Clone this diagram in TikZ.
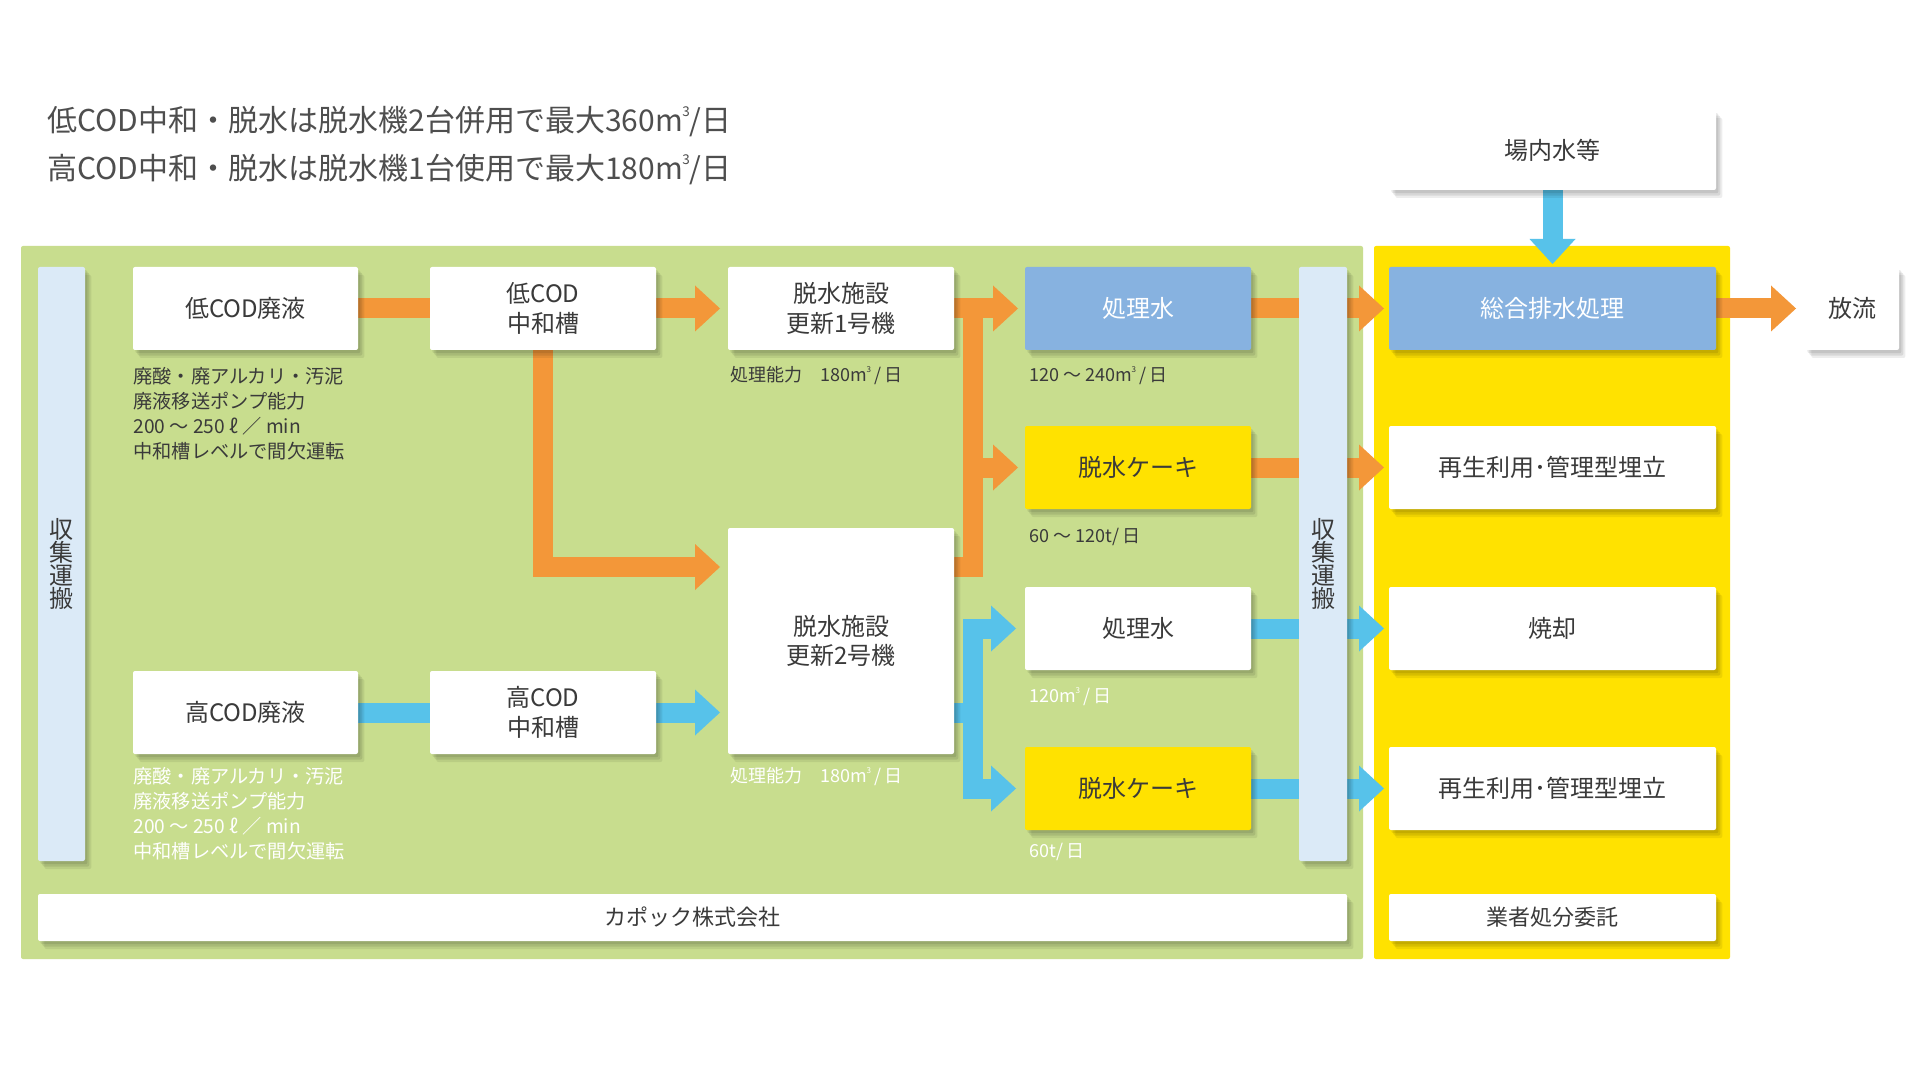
\documentclass[tikz,border=0pt]{standalone}
\usepackage{fontspec}
\setmainfont{Noto Sans CJK JP}
\usetikzlibrary{arrows.meta,shadows}
\definecolor{gpanel}{HTML}{C8DD8E}
\definecolor{ypanel}{HTML}{FFE200}
\definecolor{bbox}{HTML}{87B2E0}
\definecolor{lbar}{HTML}{DBEAF7}
\definecolor{corange}{HTML}{F39739}
\definecolor{ccyan}{HTML}{57C2EA}
\definecolor{txt}{HTML}{3A3A3A}
\pgfdeclarelayer{bg}
\pgfdeclarelayer{arr}
\pgfsetlayers{bg,arr,main}
\newcommand\mcube{m\kern-0.02em\raisebox{0.5em}{\scalebox{0.45}{3}}}
\newcommand\mkbox[7]{\node[#2,minimum width={(#5-#3)*0.5pt},minimum height={(#6-#4)*0.5pt}] (#1) at ({(#3+#5)/2},{(#4+#6)/2}) {#7};}
\tikzset{
  softshadow/.style={
    drop shadow={shadow xshift=1.2pt, shadow yshift=-1.6pt, opacity=0.09, fill=black},
    drop shadow={shadow xshift=2.2pt, shadow yshift=-2.8pt, opacity=0.09, fill=black},
    drop shadow={shadow xshift=3.2pt, shadow yshift=-4pt, opacity=0.07, fill=black}},
  box/.style={inner sep=0pt, outer sep=0pt, rounded corners=1pt, fill=white, text=txt,
    font=\fontsize{12pt}{14.75pt}\selectfont, align=center, softshadow},
  bluebox/.style={box, fill=bbox, text=white},
  yelbox/.style={box, fill=ypanel},
  barbox/.style={box, fill=lbar, font=\fontsize{12pt}{11.5pt}\selectfont},
  wide/.style={box, font=\fontsize{11pt}{13pt}\selectfont},
  flow/.style={line width=10pt, line join=miter},
  oflow/.style={flow, draw=corange},
  bflow/.style={flow, draw=ccyan},
  tipped/.style={-{Triangle[width=23pt,length=12.5pt,line width=0pt]}, shorten >=#1},
  tipped/.default=4pt,
  note/.style={inner sep=0pt, anchor=west, text=txt, font=\fontsize{9pt}{12.5pt}\selectfont, align=left},
  wnote/.style={note, text=white},
  lnote/.style={note, font=\fontsize{9.6pt}{12.5pt}\selectfont},
  lwnote/.style={lnote, text=white},
  title/.style={inner sep=0pt, anchor=west, text=txt!90, font=\fontsize{15pt}{18pt}\selectfont},
}
\begin{document}
\begin{tikzpicture}[x=0.5pt,y=-0.5pt]
\useasboundingbox (0,0) rectangle (1920,1080);
\begin{pgfonlayer}{bg}
\fill[white] (0,0) rectangle (1920,1080);
\fill[gpanel, rounded corners=1pt] (21,246) rectangle (1363,959);
\fill[ypanel, rounded corners=1pt] (1374,246) rectangle (1730,959);
\end{pgfonlayer}

% titles
\node[title] (t1) at (47,122) {低COD中和・脱水は脱水機2台併用で最大360\mcube/日};
\node[title] (t2) at (47,170) {高COD中和・脱水は脱水機1台使用で最大180\mcube/日};

% boxes
\mkbox{barL}{barbox}{38}{267}{85}{861}{収\\集\\運\\搬}
\mkbox{barR}{barbox}{1299}{267}{1347}{861}{収\\集\\運\\搬}
\mkbox{lowwaste}{box}{133}{267}{358}{350}{低COD廃液}
\mkbox{lowtank}{box}{430}{267}{656}{350}{低COD\\中和槽}
\mkbox{unit1}{box}{728}{267}{954}{350}{脱水施設\\更新1号機}
\mkbox{treat1}{bluebox}{1025}{267}{1251}{350}{処理水}
\mkbox{cake1}{yelbox}{1025}{426}{1251}{509}{脱水ケーキ}
\mkbox{unit2}{box}{728}{528}{954}{754}{脱水施設\\更新2号機}
\mkbox{treat2}{box}{1025}{587}{1251}{670}{処理水}
\mkbox{cake2}{yelbox}{1025}{747}{1251}{830}{脱水ケーキ}
\mkbox{highwaste}{box}{133}{671}{358}{754}{高COD廃液}
\mkbox{hightank}{box}{430}{671}{656}{754}{高COD\\中和槽}
\mkbox{total}{bluebox}{1389}{267}{1716}{350}{総合排水処理}
\mkbox{recyc1}{box}{1389}{426}{1716}{509}{再生利用･管理型埋立}
\mkbox{burn}{box}{1389}{587}{1716}{670}{焼却}
\mkbox{recyc2}{box}{1389}{747}{1716}{830}{再生利用･管理型埋立}
\mkbox{consign}{wide}{1389}{894}{1716}{941}{業者処分委託}
\mkbox{company}{wide}{38}{894}{1347}{941}{カポック株式会社}
\mkbox{inwater}{box}{1389}{110}{1716}{190}{場内水等}
\mkbox{release}{box}{1805}{267}{1899}{350}{放流}

% notes
\node[lnote] (n1) at (133,414) {廃酸・廃アルカリ・汚泥\\廃液移送ポンプ能力\\200 ～ 250 ℓ ／ min\\中和槽レベルで間欠運転};
\node[lwnote] (n2) at (133,814) {廃酸・廃アルカリ・汚泥\\廃液移送ポンプ能力\\200 ～ 250 ℓ ／ min\\中和槽レベルで間欠運転};
\node[note] (c1) at (730,376) {処理能力　180\mcube\,/\,日};
\node[wnote] (c2) at (730,777) {処理能力　180\mcube\,/\,日};
\node[note] (q1) at (1029,376) {120 ～ 240\mcube\,/\,日};
\node[note] (q2) at (1029,537) {60 ～ 120t/\,日};
\node[wnote] (q3) at (1029,697) {120\mcube\,/\,日};
\node[wnote] (q4) at (1029,852) {60t/\,日};

% junctions
\coordinate (j1) at (543,567);
\coordinate (j2) at (973,567);
\coordinate (j3) at (973,712.5);

\begin{pgfonlayer}{arr}
% orange flows
\draw[oflow] (lowwaste.east) -- (lowtank.west);
\draw[oflow,tipped] (lowtank.east) -- (unit1.west);
\draw[oflow,tipped] (lowtank.south) -- (j1) -- (j1 -| unit2.west);
\draw[oflow,tipped=3.5pt] (unit1.east) -- (treat1.west);
\draw[oflow,tipped=3.5pt] (unit2.east |- j2) -- (j2) -- (j2 |- cake1.west) -- (cake1.west);
\draw[oflow] (j2 |- cake1.west) -- (j2 |- unit1.east);
\draw[oflow,tipped=2.5pt] (treat1.east) -- (total.west);
\draw[oflow,tipped=2.5pt] (cake1.east) -- (recyc1.west);
\draw[oflow,tipped=4.5pt] (total.east) -- (release.west);
% blue flows
\draw[bflow] (highwaste.east) -- (hightank.west);
\draw[bflow,tipped] (hightank.east) -- (hightank.east -| unit2.west);
\draw[bflow] (unit2.east |- j3) -- (j3);
\draw[bflow,tipped=4.5pt] (j3) -- (j3 |- treat2.west) -- (treat2.west);
\draw[bflow,tipped=4.5pt] (j3) -- (j3 |- cake2.west) -- (cake2.west);
\draw[bflow,tipped=2.5pt] (treat2.east) -- (burn.west);
\draw[bflow,tipped=2.5pt] (cake2.east) -- (recyc2.west);
\draw[bflow,tipped=1.5pt] (inwater.south) -- (total.north);
\end{pgfonlayer}
\end{tikzpicture}
\end{document}
